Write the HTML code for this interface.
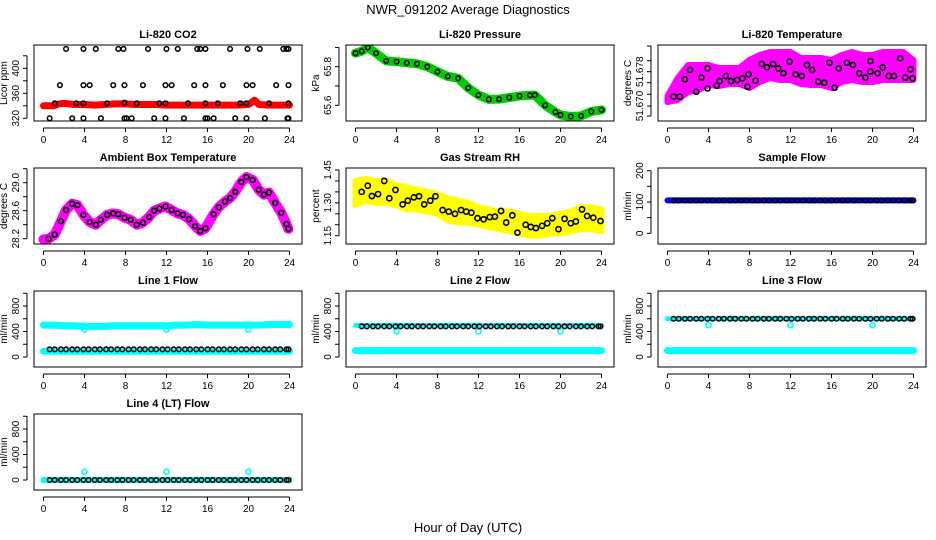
<!DOCTYPE html>
<html><head><meta charset="utf-8"><style>
body{margin:0;background:#fff}
svg{display:block;font-family:"Liberation Sans",sans-serif}
</style></head><body>
<svg id="chart" width="936" height="540" viewBox="0 0 936 540">
<text x="468" y="14" text-anchor="middle" font-size="13">NWR_091202  Average Diagnostics</text>
<text x="468" y="532" text-anchor="middle" font-size="13">Hour of Day (UTC)</text>
</svg>
<script>
// shared
const xTicks=[0,4,8,12,16,20,24];
const H=[0.6,1.1,1.7,2.2,2.8,3.3,3.9,4.4,5.0,5.5,6.1,6.6,7.2,7.7,8.3,8.8,9.4,9.9,10.5,11.0,11.6,12.1,12.7,13.2,13.8,14.3,14.9,15.4,16.0,16.5,17.1,17.6,18.2,18.7,19.3,19.8,20.4,20.9,21.5,22.0,22.6,23.1,23.7,23.9];
const HH=[0,1,2,3,4,5,6,7,8,9,10,11,12,13,14,15,16,17,18,19,20,21,22,23,24];
// CO2
const co2RedHours=[0,1,1.5,2,3,4,5,6,7,8,9,10,11,12,13,14,15,16,17,18,19,20,20.6,21,22,23,24];
const co2Red=[340,340,343,344,342,342,341,342,343,343,342,342,342,341,341,341,341,341,341,341,341,342,349,342,341,341,341];
const co2MainH=[1.1,3.2,3.9,6.2,7.9,9.1,11.3,11.9,14.1,15.8,17.0,19.2,19.8,22.0,23.9];
const co2Main=[344,344,344,344,345,344,344,344,344,344,344,344,344,344,344];
const co2HighH=[2.2,3.9,5.1,7.3,7.8,10.2,12.0,13.1,15.0,15.3,15.8,18.2,19.9,21.1,23.4,23.7,23.9];
const co2High=[431,431,431,431,431,431,431,431,431,431,431,431,431,431,431,431,431];
const co2MidH=[1.6,3.9,4.5,6.8,7.9,9.7,11.9,12.5,14.7,15.8,17.5,19.8,20.4,22.7,23.9];
const co2Mid=[373,373,373,373,373,373,373,373,373,373,373,373,373,373,373];
const co2LowH=[0.6,2.8,3.9,5.6,7.9,8.1,8.6,10.8,11.9,13.7,15.8,16.0,16.6,18.7,19.8,21.6,23.8,23.9];
const co2Low=[320,320,320,320,320,320,320,320,320,320,320,320,320,320,320,320,320,320];
// Pressure
const presH=[0,0.6,1.2,2,3,4,5,6,7,8,9,10,11,12,13,14,15,16,17,17.5,18.5,19.5,20,21,22,23,24];
const pres=[65.87,65.88,65.90,65.87,65.83,65.826,65.82,65.815,65.80,65.774,65.75,65.74,65.69,65.653,65.631,65.632,65.640,65.648,65.652,65.653,65.60,65.565,65.55,65.542,65.545,65.568,65.576];
// Temperature
const tempBlackH=[0.6,1.2,1.7,2.2,2.8,3.3,3.9,3.9,4.8,5.1,5.7,6.2,6.8,7.3,7.8,7.9,8.6,9.2,9.7,10.3,10.8,11.3,11.9,12.5,13.1,13.6,14.1,14.7,15.3,15.8,16.3,16.7,17.5,18.1,18.7,19.3,19.8,19.8,20.5,21.0,21.6,22.1,22.7,23.2,23.7,23.9];
const tempBlack=[51.67273,51.67273,51.67630,51.67821,51.67375,51.67663,51.67445,51.67855,51.67498,51.67595,51.67697,51.67595,51.67615,51.67650,51.67478,51.67732,51.67601,51.67944,51.67876,51.67944,51.67855,51.67753,51.67991,51.67732,51.67697,51.67923,51.67821,51.67580,51.67560,51.67970,51.67457,51.67855,51.67970,51.67923,51.67753,51.67663,51.67786,51.68005,51.67753,51.67876,51.67697,51.67697,51.68061,51.67663,51.67835,51.67650];
const tempLo=[51.67164,51.67205,51.67369,51.67410,51.67513,51.67492,51.67533,51.67533,51.67451,51.67574,51.67656,51.67615,51.67615,51.67533,51.67513,51.67513,51.67451,51.67574,51.67615,51.67574,51.67574,51.67615,51.67615,51.67615,51.67615];
const tempHi=[51.67287,51.67656,51.67923,51.67923,51.67923,51.67862,51.67862,51.67862,51.68026,51.68128,51.68190,51.68190,51.68190,51.68067,51.68067,51.68067,51.68026,51.68128,51.68190,51.68128,51.68128,51.68190,51.68190,51.68190,51.68026];
// Ambient
const ambH=[0,0.5,1.1,1.7,2.2,2.8,3.3,3.9,4.5,5.1,5.6,6.2,6.8,7.3,7.9,8.5,9.1,9.7,10.3,10.8,11.3,11.9,12.5,13.1,13.6,14.2,14.8,15.3,15.8,16.6,17.1,17.7,18.2,18.7,19.3,19.8,20.4,21.0,21.5,22.0,22.6,23.2,23.7,23.9];
const amb=[28.19,28.20,28.26,28.45,28.61,28.70,28.68,28.54,28.44,28.40,28.47,28.54,28.56,28.55,28.50,28.47,28.40,28.43,28.51,28.60,28.63,28.66,28.61,28.56,28.54,28.48,28.38,28.31,28.35,28.55,28.65,28.73,28.78,28.87,29.01,29.08,29.04,28.90,28.83,28.86,28.71,28.57,28.41,28.34];
// RH
const rhH=[0.6,1.2,1.6,2.2,2.8,3.3,3.9,4.6,5.1,5.7,6.2,6.7,7.3,7.8,8.5,9.1,9.7,10.3,10.8,11.3,11.9,12.5,13.1,13.6,14.2,14.7,15.3,15.8,16.6,17.1,17.6,18.2,18.7,19.2,19.8,20.4,21.0,21.5,22.1,22.6,23.2,23.9];
const rh=[1.35,1.378,1.331,1.34,1.40,1.321,1.359,1.293,1.31,1.325,1.33,1.293,1.31,1.33,1.267,1.26,1.25,1.267,1.26,1.255,1.23,1.225,1.235,1.237,1.263,1.21,1.243,1.164,1.20,1.19,1.185,1.195,1.207,1.23,1.18,1.227,1.207,1.215,1.27,1.24,1.232,1.217];
const rhLo=[1.29,1.31,1.30,1.30,1.29,1.27,1.27,1.26,1.25,1.22,1.21,1.21,1.20,1.19,1.18,1.17,1.16,1.15,1.15,1.16,1.16,1.17,1.18,1.18,1.17];
const rhHi=[1.40,1.41,1.40,1.40,1.38,1.37,1.36,1.35,1.34,1.32,1.31,1.30,1.28,1.27,1.26,1.26,1.25,1.24,1.24,1.24,1.25,1.26,1.28,1.28,1.27];
// Flows (hourly colored series)
const sampleBlue=[105,105,105,105,105,105,105,105,105,105,105,105,105,105,105,105,105,105,105,105,105,105,105,105,105];
const sampleBlack=[105,105,105,105,105,105,105,105,105,105,105,105,105,105,105,105,105,105,105,105,105,105,105,105,105,105,105,105,105,105,105,105,105,105,105,105,105,105,105,105,105,105,105,105];
const l1CyanHi=[500,500,490,490,480,480,480,490,490,490,490,490,490,500,500,510,500,500,500,500,500,500,510,510,510];
const l1CyanLo=[90,90,90,90,90,90,90,90,90,90,90,90,90,90,90,90,90,90,90,90,90,90,90,90,90];
const l1Black=[120,120,120,120,120,120,120,120,120,120,120,120,120,120,120,120,120,120,120,120,120,120,120,120,120,120,120,120,120,120,120,120,120,120,120,120,120,120,120,120,120,120,120,120];
const l2CyanHi=[495,495,495,495,495,495,495,495,495,495,495,495,495,495,495,495,495,495,495,495,495,495,495,495,495];
const l2CyanLo=[100,100,100,100,100,100,100,100,100,100,100,100,100,100,100,100,100,100,100,100,100,100,100,100,100];
const l2Black=[480,480,480,480,480,480,480,480,480,480,480,480,480,480,480,480,480,480,480,480,480,480,480,480,480,480,480,480,480,480,480,480,480,480,480,480,480,480,480,480,480,480,480,480];
const l3CyanHi=[600,600,600,600,600,600,600,600,600,600,600,600,600,600,600,600,600,600,600,600,600,600,600,600,600];
const l3CyanLo=[100,100,100,100,100,100,100,100,100,100,100,100,100,100,100,100,100,100,100,100,100,100,100,100,100];
const l3Black=[600,600,600,600,600,600,600,600,600,600,600,600,600,600,600,600,600,600,600,600,600,600,600,600,600,600,600,600,600,600,600,600,600,600,600,600,600,600,600,600,600,600,600,600];
const l4CyanLo=[0,0,0,0,0,0,0,0,0,0,0,0,0,0,0,0,0,0,0,0,0,0,0,0,0];
const l4Black=[0,0,0,0,0,0,0,0,0,0,0,0,0,0,0,0,0,0,0,0,0,0,0,0,0,0,0,0,0,0,0,0,0,0,0,0,0,0,0,0,0,0,0,0];
const dipH=[4,12,20];
const l1Dip=[430,430,430];
const l2Dip=[400,400,400];
const l3Dip=[500,500,500];
const l4Bump=[130,130,130];

const NS="http://www.w3.org/2000/svg";
const svg=document.getElementById('chart');
function mk(tag,attrs,parent){const e=document.createElementNS(NS,tag);for(const k in attrs)e.setAttribute(k,attrs[k]);(parent||svg).appendChild(e);return e;}

function panel(o){
  const g=mk('g',{});
  
  
  const L=34+o.col*312, R=L+268, T=45+o.row*123, B=T+76;
  const x0=43.5+o.col*312, xs=246/24;
  const X=h=>x0+h*xs;
  const Y=v=>o.p1+(v-o.v1)*(o.p2-o.p1)/(o.v2-o.v1)+o.row*0;
  const clipId='c'+o.col+o.row;
  const cp=mk('clipPath',{id:clipId},g);mk('rect',{x:L,y:T,width:R-L,height:B-T},cp);
  const dg=mk('g',{'clip-path':'url(#'+clipId+')'},g);
  (o.layers||[]).forEach(f=>f(dg,X,Y));
  const box=mk('rect',{x:L,y:T,width:R-L,height:B-T,fill:'none',stroke:'#000','stroke-width':1},g);
  
  
  const t=mk('text',{x:(L+R)/2,y:T-7,'text-anchor':'middle','font-size':11,'font-weight':'bold'},g);t.textContent=o.title;
  
  
  // x axis
  mk('line',{x1:X(0),x2:X(24),y1:B+7,y2:B+7,stroke:'#000'},g);
  xTicks.forEach(v=>{mk('line',{x1:X(v),x2:X(v),y1:B+7,y2:B+11,stroke:'#000'},g);
    const tx=mk('text',{x:X(v),y:B+22,'text-anchor':'middle','font-size':10},g);tx.textContent=v;
    
    });
  // y axis
  const yt=o.ticks;
  mk('line',{x1:L-7,x2:L-7,y1:Y(yt[0]),y2:Y(yt[yt.length-1]),stroke:'#000'},g);
  yt.forEach(v=>{mk('line',{x1:L-7,x2:L-11,y1:Y(v),y2:Y(v),stroke:'#000'},g);});
  o.labels.forEach((v,i)=>{const yy=Y(v);const tx=mk('text',{x:L-15,y:yy,'text-anchor':'middle','font-size':10,transform:`rotate(-90 ${L-15} ${yy})`},g);tx.textContent=o.labelText[i];
    
    });
  const ya=mk('text',{x:L-27,y:(T+B)/2,'text-anchor':'middle','font-size':10,transform:`rotate(-90 ${L-27} ${(T+B)/2})`},g);ya.textContent=o.ylab;
  
  
}
function circles(hs,vs,color,r,sw,name){return (g,X,Y)=>{hs.forEach((h,i)=>{const c=mk('circle',{cx:X(h),cy:Y(vs[i]),r:r,fill:'none',stroke:color,'stroke-width':sw},g);
  
  });};}
function thick(hs,vs,color,w,name){return (g,X,Y)=>{const p=mk('polyline',{points:hs.map((h,i)=>X(h)+','+Y(vs[i])).join(' '),fill:'none',stroke:color,'stroke-width':w,'stroke-linejoin':'round','stroke-linecap':'round'},g);
  
  };}
function band(hs,lo,hi,color,name){return (g,X,Y)=>{const pts=hs.map((h,i)=>X(h)+','+Y(hi[i])).concat(hs.slice().reverse().map((h,i)=>X(h)+','+Y(lo[hs.length-1-i])));
  const p=mk('polygon',{points:pts.join(' '),fill:color,stroke:color,'stroke-width':6,'stroke-linejoin':'round'},g);
  
  };}

const flowTicks=[0,200,400,600,800,1000];
panel({name:'panel-co2',col:0,row:0,title:'Li-820 CO2',ylab:'Licor ppm',v1:320,p1:118.3,v2:400,p2:68.3,ticks:[320,340,360,380,400,420],labels:[320,360,400],labelText:['320','360','400'],
 layers:[thick(co2RedHours,co2Red,'#ff0000',7,'co2-red-series'),circles(co2MainH,co2Main,'#000',2.3,1.5,'co2-point'),circles(co2HighH,co2High,'#000',2.3,1.5,'co2-point'),circles(co2MidH,co2Mid,'#000',2.3,1.5,'co2-point'),circles(co2LowH,co2Low,'#000',2.3,1.5,'co2-point')]});
panel({name:'panel-pressure',col:1,row:0,title:'Li-820 Pressure',ylab:'kPa',v1:65.8,p1:66.7,v2:65.6,p2:105.3,ticks:[65.6,65.7,65.8,65.9],labels:[65.6,65.8],labelText:['65.6','65.8'],
 layers:[thick(presH,pres,'#00cc00',9,'pressure-green-series'),circles(presH,pres,'#000',2.3,1.5,'pressure-point')]});
panel({name:'panel-temperature',col:2,row:0,title:'Li-820 Temperature',ylab:'degrees C',v1:51.670,p1:110,v2:51.678,p2:71,ticks:[51.66877,51.67082,51.67322,51.6756,51.67786,51.68011,51.68313],labels:[51.67082,51.67786],labelText:['51.670','51.678'],
 layers:[band(HH,tempLo,tempHi,'#ff00ff','temperature-magenta-series'),circles(tempBlackH,tempBlack,'#000',2.6,1.6,'temperature-point')]});
panel({name:'panel-ambient',col:0,row:1,title:'Ambient Box Temperature',ylab:'degrees C',v1:29.0,p1:182.7,v2:28.2,p2:238.7,ticks:[28.2,28.4,28.6,28.8,29.0,29.2],labels:[28.2,28.6,29.0],labelText:['28.2','28.6','29.0'],
 layers:[thick(ambH,amb,'#ff00ff',10,'ambient-magenta-series'),circles(ambH.slice(1),amb.slice(1),'#000',2.4,1.6,'ambient-point')]});
panel({name:'panel-rh',col:1,row:1,title:'Gas Stream RH',ylab:'percent',v1:1.45,p1:170,v2:1.15,p2:235.7,ticks:[1.15,1.2,1.25,1.3,1.35,1.4,1.45],labels:[1.15,1.30,1.45],labelText:['1.15','1.30','1.45'],
 layers:[band(HH,rhLo,rhHi,'#ffff00','rh-yellow-series'),circles(rhH,rh,'#000',2.6,1.6,'rh-point')]});
panel({name:'panel-sample-flow',col:2,row:1,title:'Sample Flow',ylab:'ml/min',v1:0,p1:233.3,v2:200,p2:170.7,ticks:[0,50,100,150,200],labels:[0,100,200],labelText:['0','100','200'],
 layers:[thick(HH,sampleBlue,'#0000ff',6,'sample-blue-series'),circles(H,sampleBlack,'#000',2.3,1.5,'sample-point')]});
panel({name:'panel-line1',col:0,row:2,title:'Line 1 Flow',ylab:'ml/min',v1:0,p1:357,v2:800,p2:306,ticks:flowTicks,labels:[0,400,800],labelText:['0','400','800'],
 layers:[thick(HH,l1CyanHi,'#00ffff',7,'line1-cyan-series'),thick(HH,l1CyanLo,'#00ffff',7,'line1-cyan-low'),circles(dipH,l1Dip,'#00ffff',2.5,1.6,'line1-dip'),circles(H,l1Black,'#000',2.3,1.5,'line1-point')]});
panel({name:'panel-line2',col:1,row:2,title:'Line 2 Flow',ylab:'ml/min',v1:0,p1:357,v2:800,p2:306,ticks:flowTicks,labels:[0,400,800],labelText:['0','400','800'],
 layers:[thick(HH,l2CyanHi,'#00ffff',5,'line2-cyan-series'),thick(HH,l2CyanLo,'#00ffff',7,'line2-cyan-low'),circles(dipH,l2Dip,'#00ffff',2.5,1.6,'line2-dip'),circles(H,l2Black,'#000',2.3,1.5,'line2-point')]});
panel({name:'panel-line3',col:2,row:2,title:'Line 3 Flow',ylab:'ml/min',v1:0,p1:357,v2:800,p2:306,ticks:flowTicks,labels:[0,400,800],labelText:['0','400','800'],
 layers:[thick(HH,l3CyanHi,'#00ffff',5,'line3-cyan-series'),thick(HH,l3CyanLo,'#00ffff',7,'line3-cyan-low'),circles(dipH,l3Dip,'#00ffff',2.5,1.6,'line3-dip'),circles(H,l3Black,'#000',2.3,1.5,'line3-point')]});
panel({name:'panel-line4',col:0,row:3,title:'Line 4 (LT) Flow',ylab:'ml/min',v1:0,p1:480,v2:800,p2:429,ticks:flowTicks,labels:[0,400,800],labelText:['0','400','800'],
 layers:[thick(HH,l4CyanLo,'#00ffff',6,'line4-cyan-series'),circles(dipH,l4Bump,'#00ffff',2.5,1.6,'line4-bump'),circles(H,l4Black,'#000',2.3,1.5,'line4-point')]});
</script>
</body></html>
